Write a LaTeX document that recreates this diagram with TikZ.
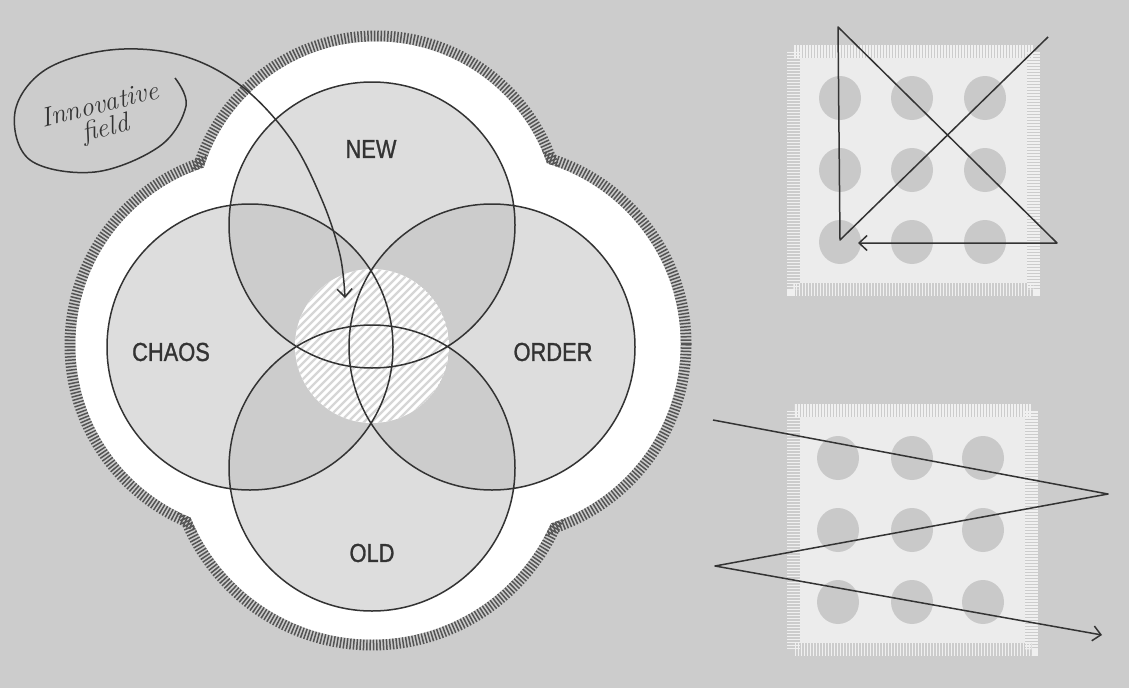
\documentclass[tikz,border=0pt]{standalone}
\usepackage{fontspec}
\usepackage{graphicx}
\newfontfamily\labelfont{Liberation Sans}[FakeBold=1.2]
\usetikzlibrary{arrows.meta,calc}
\definecolor{bgcol}{gray}{0.80}
\definecolor{onecol}{gray}{0.865}
\definecolor{twocol}{gray}{0.80}
\definecolor{inkcol}{gray}{0.2}
\definecolor{fringecol}{gray}{0.33}
\definecolor{panelcol}{gray}{0.925}
\definecolor{panelfringe}{gray}{0.94}
\definecolor{dotcol}{gray}{0.79}
\definecolor{hatchcol}{gray}{0.84}
\newcommand{\cond}[1]{\scalebox{0.84}[1]{#1}}
\tikzset{
  fringe/.style={draw=fringecol, line width=11pt, dash pattern=on 1.5pt off 1.8pt},
  ring/.style={draw=inkcol, line width=1.5pt},
  lbl/.style={font=\labelfont\fontsize{26}{28}\selectfont, text=inkcol},
  hand/.style={font=\itshape\fontsize{27}{27}\selectfont\addfontfeature{FakeBold=1.5}, text=inkcol},
  ink/.style={draw=inkcol, line width=1.5pt, line join=round},
  barb/.style={-{Straight Barb[length=8pt,width=15pt]}},
  pfringe/.style={draw=panelfringe, line width=13pt, dash pattern=on 1.4pt off 1.6pt},
  pdot/.style={fill=dotcol, draw=none},
}
\begin{document}
\begin{tikzpicture}[x=1pt,y=-1pt]
\useasboundingbox (0,0) rectangle (1129,688);
\fill[bgcol] (0,0) rectangle (1129,688);

% lobe centres
\coordinate (LT) at (376,222);
\coordinate (LL) at (262,345);
\coordinate (LR) at (492,344);
\coordinate (LB) at (372,444);
% fringe
\draw[fringe] (LT) circle (186);
\draw[fringe] (LL) circle (192);
\draw[fringe] (LR) circle (194);
\draw[fringe] (LB) circle (201);
% white field
\fill[white] (LT) circle (180.5) (LL) circle (186.5) (LR) circle (188.5) (LB) circle (195.5);

% circles
\coordinate (cN) at (372,225);
\coordinate (cO) at (372,468);
\coordinate (cC) at (250,347);
\coordinate (cR) at (492,347);
\def\rr{143}
\fill[onecol] (cN) circle (\rr) (cO) circle (\rr) (cC) circle (\rr) (cR) circle (\rr);
\foreach \a/\b in {cN/cC, cN/cR, cO/cC, cO/cR, cN/cO, cC/cR}{
  \begin{scope}
    \clip (\a) circle (\rr);
    \fill[twocol] (\b) circle (\rr);
  \end{scope}
}
% hatched centre
\coordinate (cH) at (372,346);
\begin{scope}
  \clip (cH) circle (77);
  \fill[white] (cH) circle (77);
  \foreach \i in {-180,-172,...,180}{
    \draw[hatchcol, line width=2.2pt] ($(cH)+(\i-100,100)$) -- ($(cH)+(\i+100,-100)$);
  }
\end{scope}
\draw[ring] (cN) circle (\rr) (cO) circle (\rr) (cC) circle (\rr) (cR) circle (\rr);

% labels
\node[lbl] (new) at (371,149) {\cond{NEW}};
\node[lbl] (chaos) at (171,352) {\cond{CHAOS}};
\node[lbl] (order) at (553,352) {\cond{ORDER}};
\node[lbl] (old) at (372,553) {\cond{OLD}};

% innovative field annotation
\node[hand, rotate=14, align=center] (innov) at (103,118) {Innovative\\[-3pt]field};
\coordinate (innovtip) at (345,298);
\draw[ink, barb] plot[smooth, tension=0.6] coordinates
  {(175,78) (186,106) (160,146) (95,172) (30,160) (15,112) (45,70) (110,50) (180,55) (240,85) (290,138) (322,200) (340,255) (innovtip)};

% top-right panel
\draw[pfringe] (793.5,51.5) rectangle (1033.5,289.5);
\fill[panelcol] (800,58) rectangle (1027,283);
\foreach \x in {840,912,985}{
  \foreach \y in {98,170,242}{
    \fill[pdot] (\x,\y) ellipse (21 and 22);
  }
}
\coordinate (pa) at (1048,37);
\coordinate (pb) at (840,240);
\coordinate (pc) at (838,27);
\coordinate (pd) at (1057,243);
\coordinate (pe) at (858,243);
\draw[ink, barb] (pa) -- (pb) -- (pc) -- (pd) -- (pe);

% bottom-right panel
\draw[pfringe] (793.5,410.5) rectangle (1031.5,649.5);
\fill[panelcol] (800,417) rectangle (1025,643);
\foreach \x in {838,912,983}{
  \foreach \y in {458,530,602}{
    \fill[pdot] (\x,\y) ellipse (21 and 22);
  }
}
\coordinate (za) at (713,420);
\coordinate (zb) at (1108,494);
\coordinate (zc) at (715,566);
\coordinate (zd) at (1102,635);
\draw[ink, barb] (za) -- (zb) -- (zc) -- (zd);
\end{tikzpicture}
\end{document}
